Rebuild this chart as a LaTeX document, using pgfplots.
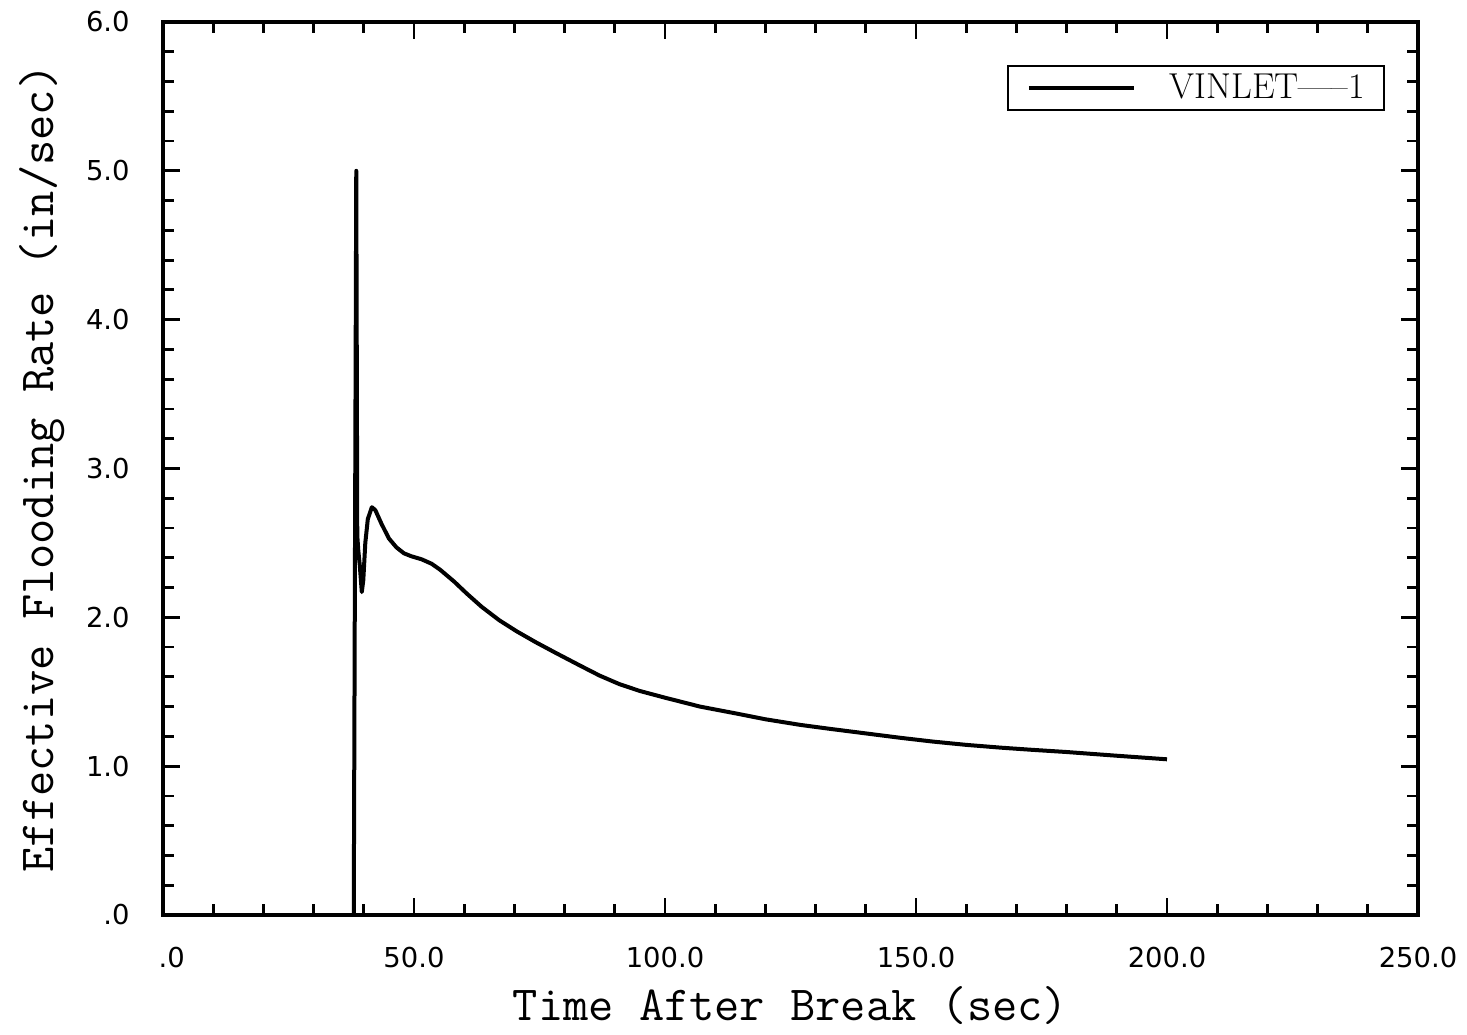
\documentclass[border=0pt]{standalone}
\usepackage{fontspec}
\usepackage{pgfplots}
\pgfplotsset{compat=1.18}
\newfontfamily\ticksfont{DejaVu Sans}
\begin{document}
\begin{tikzpicture}
\begin{axis}[
  scale only axis, width=627.5pt, height=446.5pt,
  xmin=0, xmax=250, ymin=0, ymax=6,
  xtick={0,50,100,150,200,250},
  xticklabels={\phantom{0}.0,50.0,100.0,150.0,200.0,250.0},
  ytick={0,1,2,3,4,5,6},
  yticklabels={.0,1.0,2.0,3.0,4.0,5.0,6.0},
  minor x tick num=4, minor y tick num=4,
  tick align=inside,
  major tick length=8.5pt, minor tick length=5.5pt,
  tick style={black, line width=1.4pt},
  axis line style={line width=1.6pt},
  xticklabel style={font=\fontsize{13.7}{16}\selectfont\ticksfont, anchor=north, inner sep=0pt, yshift=-15.8pt},
  yticklabel style={font=\fontsize{13.7}{16}\selectfont\ticksfont, anchor=east, inner sep=0pt, xshift=-16.5pt},
  xlabel={Time After Break (sec)},
  ylabel={Effective Flooding Rate (in/sec)},
  label style={font=\fontsize{24.5}{28}\selectfont\ttfamily, inner sep=0pt},
  xlabel style={at={(axis description cs:0.5,-0.1176)}, anchor=base},
  ylabel style={at={(axis description cs:-0.0781,0.5)}, anchor=south},
  legend style={at={(axis description cs:1,1)}, anchor=north east, xshift=-16.5pt, yshift=-21.5pt,
    draw=black, line width=1pt, font=\fontsize{18}{20}\selectfont,
    inner xsep=9.5pt, inner ysep=4pt, nodes={inner sep=0pt}, column sep=17pt},
  legend image code/.code={\draw[#1] (0pt,0pt) -- (52.5pt,0pt);},
]
\addplot[black, line width=2pt, line join=round] coordinates {
(38.0,0) (38.5,5.0) (38.7,2.55) (38.9,2.45) (39.2,2.35) (39.6,2.17) (39.9,2.25)
(40.3,2.5) (40.8,2.66) (41.6,2.74) (42.3,2.72) (43.5,2.63) (45,2.53) (46.5,2.47)
(48,2.43) (49.5,2.41) (51.5,2.39) (53.5,2.36) (55.2,2.32) (58,2.24) (60.5,2.16)
(63.5,2.07) (67,1.98) (70.5,1.905) (74.4,1.83) (78.4,1.758) (83,1.677) (87,1.608)
(91,1.55) (95,1.505) (100,1.46) (107,1.40) (114,1.355) (120,1.315) (127,1.277)
(133,1.25) (140,1.22) (147,1.19) (153.4,1.165) (160,1.143) (167,1.124) (173,1.11)
(180,1.095) (190,1.07) (200,1.046)
};
\addlegendentry{VINLET---{}--1}
\end{axis}
\pgfresetboundingbox
\path ([shift={(-81.5pt,-60pt)}]current axis.south west) rectangle ([shift={(24.5pt,11pt)}]current axis.north east);
\end{tikzpicture}
\end{document}
